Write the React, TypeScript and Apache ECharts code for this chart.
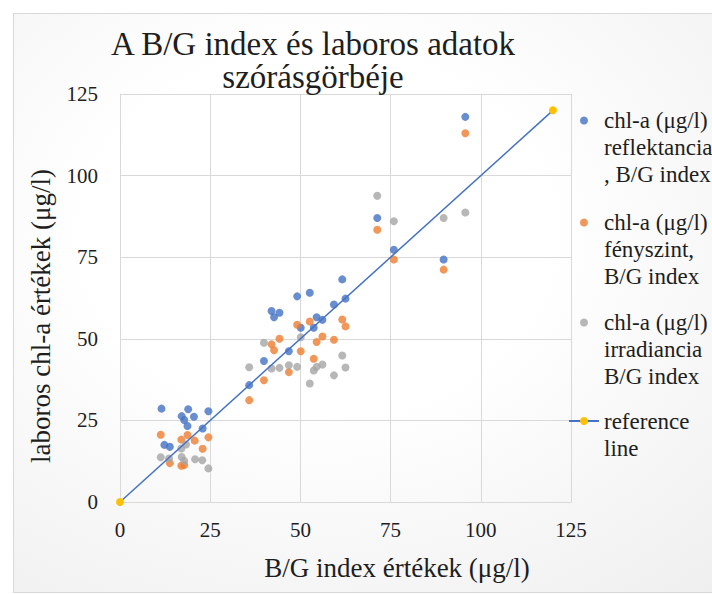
import React, { useEffect, useRef } from "react";
import * as echarts from "echarts";

const titleText = "A B/G index és laboros adatok\nszórásgörbéje";
const xAxisName = "B/G index értékek (μg/l)";
const yAxisName = "laboros chl-a értékek (μg/l)";
const axisTicks = [0, 25, 50, 75, 100, 125];

const seriesNames = [
  "chl-a (μg/l)\nreflektancia\n, B/G index",
  "chl-a (μg/l)\nfényszint,\nB/G index",
  "chl-a (μg/l)\nirradiancia\nB/G index",
  "reference\nline",
];

const reflX = [11.5, 12.3, 13.8, 17.1, 17.8, 18.7, 18.9, 20.5, 22.9, 24.5, 35.8, 39.9, 42.0, 42.7, 44.2, 46.8, 49.1, 50.1, 52.6, 53.7, 54.5, 56.1, 59.3, 61.6, 62.5, 71.3, 75.9, 89.7, 95.7];
const reflY = [28.6, 17.5, 16.9, 26.3, 25.1, 23.3, 28.4, 26.1, 22.5, 27.8, 35.8, 43.2, 58.5, 56.6, 58.0, 46.2, 63.0, 53.4, 64.1, 53.4, 56.6, 55.8, 60.5, 68.2, 62.3, 87.0, 77.3, 74.3, 118.0];

const fenyX = [11.3, 13.8, 17.0, 17.0, 17.8, 18.7, 20.7, 22.9, 24.5, 35.8, 39.9, 42.0, 42.7, 44.2, 46.8, 49.1, 50.1, 52.6, 53.7, 54.5, 56.1, 59.3, 61.6, 62.5, 71.3, 75.9, 89.7, 95.7];
const fenyY = [20.6, 11.9, 19.1, 11.1, 11.3, 20.5, 18.8, 16.3, 19.8, 31.2, 37.3, 48.3, 46.5, 50.0, 39.8, 54.3, 46.2, 55.3, 43.9, 49.0, 50.7, 49.7, 55.9, 53.8, 83.4, 74.3, 71.2, 113.0];

const irrX = [11.3, 13.6, 17.0, 17.1, 17.8, 18.3, 20.8, 22.8, 24.5, 35.8, 39.9, 42.0, 44.2, 46.8, 49.1, 50.1, 52.6, 53.7, 54.5, 56.1, 59.3, 61.6, 62.5, 71.3, 75.9, 89.7, 95.7];
const irrY = [13.7, 13.3, 16.4, 13.8, 12.6, 17.6, 13.1, 12.8, 10.3, 41.3, 48.8, 40.9, 41.1, 41.9, 41.4, 50.5, 36.3, 40.3, 41.4, 42.1, 38.8, 44.9, 41.2, 93.8, 86.0, 87.0, 88.7];

const refX = [0, 120];
const refY = [0, 120];

const colors = ["#4472C4", "#ED7D31", "#A5A5A5", "#4472C4"];
const refMarkerColor = "#FFC000";

const fontName = "Liberation Serif";
const textColor = "#1e1e1e";
const gridColor = "#d9d9d9";

const zip = (xs: number[], ys: number[]) => xs.map((x, i) => [x, ys[i]]);

export default function App() {
  const ref = useRef<HTMLDivElement>(null);

  useEffect(() => {
    if (!ref.current) return;
    const chart = echarts.init(ref.current, undefined, { renderer: "svg" });
    const legendTops = [53, 155, 255, 380.5];
    const legendLefts = [580, 580, 580, 568];
    const axisCommon = {
      type: "value" as const,
      min: axisTicks[0],
      max: axisTicks[axisTicks.length - 1],
      interval: axisTicks[1] - axisTicks[0],
      axisLine: { show: true, lineStyle: { color: gridColor, width: 1 } },
      axisTick: { show: false },
      splitLine: { show: true, lineStyle: { color: gridColor, width: 1 } },
      nameLocation: "middle" as const,
    };
    const option: any = {
      animation: false,
      textStyle: { fontFamily: fontName, color: textColor },
      title: {
        text: titleText,
        left: 313,
        top: 27,
        padding: 0,
        textAlign: "center",
        textStyle: {
          fontFamily: fontName,
          fontSize: 33,
          fontWeight: "normal",
          color: textColor,
          lineHeight: 33,
        },
      },
      legend: seriesNames.map((n, i) => ({
        data: [n],
        orient: "vertical",
        left: legendLefts[i],
        top: legendTops[i],
        padding: 0,
        itemWidth: 30,
        itemHeight: i === 3 ? 10 : 8,
        selectedMode: false,
        formatter: (name: string) => (i === 3 ? "\n" : "\n\n") + name,
        textStyle: { fontFamily: fontName, fontSize: 23, lineHeight: 27, color: textColor },
      })),
      grid: { left: 120, top: 94, width: 451, height: 408, containLabel: false },
      xAxis: {
        ...axisCommon,
        name: xAxisName,
        nameGap: 52,
        nameTextStyle: { fontFamily: fontName, fontSize: 27, color: textColor, padding: [0, 0, 0, 103] },
        axisLabel: { fontFamily: fontName, fontSize: 21, color: textColor, margin: 17 },
      },
      yAxis: {
        ...axisCommon,
        name: yAxisName,
        nameGap: 66,
        nameTextStyle: { fontFamily: fontName, fontSize: 27, color: textColor, padding: [0, 36, 0, 0] },
        axisLabel: { fontFamily: fontName, fontSize: 21, color: textColor, margin: 22 },
      },
      series: [
        { name: seriesNames[0], type: "scatter", data: zip(reflX, reflY), symbolSize: 8, itemStyle: { color: colors[0] } },
        { name: seriesNames[1], type: "scatter", data: zip(fenyX, fenyY), symbolSize: 8, itemStyle: { color: colors[1] } },
        { name: seriesNames[2], type: "scatter", data: zip(irrX, irrY), symbolSize: 8, itemStyle: { color: colors[2] } },
        {
          name: seriesNames[3],
          type: "line",
          data: zip(refX, refY),
          symbol: "circle",
          symbolSize: 8,
          showSymbol: true,
          itemStyle: { color: refMarkerColor },
          lineStyle: { color: colors[3], width: 1.5 },
          z: 5,
        },
      ],
    };
    chart.setOption(option);
    return () => chart.dispose();
  }, []);

  return (
    <div style={{ position: "fixed", left: 0, top: 0, width: 712, height: 594, overflow: "hidden", background: "#ffffff" }}>
      <div
        style={{
          position: "absolute",
          left: 13,
          top: 13,
          width: 760,
          height: 578,
          border: "1px solid #d9d9d9",
          background: "radial-gradient(ellipse at 40% 38%, #ffffff 0%, #ffffff 35%, #ededed 100%)",
        }}
      />
      <div ref={ref} style={{ position: "absolute", left: 0, top: 0, width: 712, height: 594 }} />
    </div>
  );
}
